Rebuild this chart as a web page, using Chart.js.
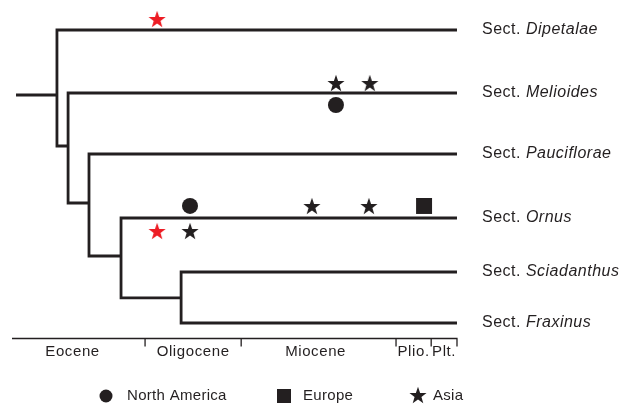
<!DOCTYPE html>
<html lang="en">
<head>
<meta charset="UTF-8">
<title>Fraxinus sections</title>
<script src="https://cdn.jsdelivr.net/npm/chart.js@4.4.0/dist/chart.umd.min.js"></script>
<style>
  html, body { margin: 0; padding: 0; background: #fff; }
  #wrap { width: 632px; height: 410px; }
</style>
</head>
<body>
<div id="wrap"><canvas id="tree" width="632" height="410"></canvas></div>
<script>
// sections (tips), rows from top to bottom
const sections = ['Dipetalae', 'Melioides', 'Pauciflorae', 'Ornus', 'Sciadanthus', 'Fraxinus'];
const sectionRow = [0, 1.075, 2.116, 3.208, 4.13, 5];
const tipTime = 100;

// internal nodes: time (relative, 0 = axis start) and row
const nodeTime = [10.1, 12.6, 17.3, 24.5, 38.0];
const nodeRow = [1.109, 1.98, 2.952, 3.857, 4.573];
const nodeChildren = [['t0', 'n1'], ['t1', 'n2'], ['t2', 'n3'], ['t3', 'n4'], ['t4', 't5']];
const rootStart = 0.9;

// time axis
const epochs = ['Eocene', 'Oligocene', 'Miocene', 'Plio.', 'Plt.'];
const epochBounds = [0, 29.9, 51.5, 86.3, 94.2, 100];

// distribution markers
const naTime = [72.8, 40.0];
const naRow = [1.28, 3.003];
const euTime = [92.6];
const euRow = [3.003];
const asTime = [72.8, 80.4, 67.4, 80.2, 40.0];
const asRow = [0.904, 0.904, 3.003, 3.003, 3.43];
const redTime = [32.6, 32.6];
const redRow = [-0.188, 3.43];

const legendLabels = ['North America', 'Europe', 'Asia'];

const INK = '#231f20';
const RED = '#ed1c24';
const FONT = '"Liberation Sans", Arial, sans-serif';

function makeStar(color, size) {
    const c = document.createElement('canvas');
    c.width = c.height = size;
    const g = c.getContext('2d');
    const R = size / 2, r = R * 0.4;
    const dy = R * 0.095;
    g.fillStyle = color;
    g.beginPath();
    for (let i = 0; i < 10; i++) {
        const a = -Math.PI / 2 + i * Math.PI / 5;
        const rad = i % 2 ? r : R;
        g.lineTo(R + rad * Math.cos(a), R + dy + rad * Math.sin(a));
    }
    g.closePath();
    g.fill();
    return c;
}
const blackStar = makeStar(INK, 18);
const redStar = makeStar(RED, 18);

function pos(id) {
    const i = +id.slice(1);
    return id[0] === 't' ? { x: tipTime, y: sectionRow[i] } : { x: nodeTime[i], y: nodeRow[i] };
}

// branches
const branchSets = [];
const lineStyle = {
    showLine: true, pointRadius: 0, borderColor: INK, borderWidth: 2.8,
    borderJoinStyle: 'miter', borderCapStyle: 'butt', tension: 0
};
branchSets.push(Object.assign({ data: [{ x: rootStart, y: nodeRow[0] }, { x: nodeTime[0], y: nodeRow[0] }] }, lineStyle));
nodeChildren.forEach((kids, i) => {
    kids.forEach(k => {
        const c = pos(k);
        branchSets.push(Object.assign({
            data: [{ x: nodeTime[i], y: nodeRow[i] }, { x: nodeTime[i], y: c.y }, { x: c.x, y: c.y }]
        }, lineStyle));
    });
});

const zip = (xs, ys) => xs.map((x, i) => ({ x: x, y: ys[i] }));
const markerSets = [
    { data: zip(naTime, naRow), pointStyle: 'circle', pointRadius: 8, pointBackgroundColor: INK, pointBorderWidth: 0 },
    { data: zip(euTime, euRow), pointStyle: 'rect', pointRadius: 11.3, pointBackgroundColor: INK, pointBorderWidth: 0 },
    { data: zip(asTime, asRow), pointStyle: blackStar, pointRadius: 9 },
    { data: zip(redTime, redRow), pointStyle: redStar, pointRadius: 9 }
];

const decor = {
    id: 'decor',
    afterDatasetsDraw(chart) {
        const ctx = chart.ctx;
        const xs = chart.scales.x, ys = chart.scales.y;
        ctx.save();
        ctx.fillStyle = INK;
        ctx.strokeStyle = INK;
        ctx.textBaseline = 'middle';

        // section labels
        ctx.letterSpacing = '0.5px';
        const lx = xs.getPixelForValue(tipTime) + 25;
        sections.forEach((s, i) => {
            const y = ys.getPixelForValue(sectionRow[i]);
            ctx.font = '16px ' + FONT;
            ctx.textAlign = 'left';
            ctx.fillText('Sect. ', lx, y);
            const w = ctx.measureText('Sect. ').width;
            ctx.font = 'italic 16px ' + FONT;
            ctx.fillText(s, lx + w, y);
        });

        // time axis
        const ay = ys.getPixelForValue(sectionRow[5]) + 15.5;
        ctx.lineWidth = 1.3;
        ctx.beginPath();
        ctx.moveTo(12, ay);
        ctx.lineTo(xs.getPixelForValue(epochBounds[5]) + 0.6, ay);
        epochBounds.slice(1).forEach(b => {
            const x = xs.getPixelForValue(b);
            ctx.moveTo(x, ay);
            ctx.lineTo(x, ay + 8);
        });
        ctx.stroke();
        ctx.letterSpacing = '0.6px';
        ctx.font = '15px ' + FONT;
        ctx.textAlign = 'center';
        epochs.forEach((e, i) => {
            const x0 = xs.getPixelForValue(epochBounds[i]);
            const x1 = xs.getPixelForValue(epochBounds[i + 1]);
            const shift = i === 0 ? -6 : (i === 2 ? -3 : 0);
            ctx.fillText(e, (x0 + x1) / 2 + shift, ay + 13);
        });

        // legend
        const ly = 396;
        const mx = [106, 284, 418];
        const tx = [127, 303, 433];
        ctx.beginPath();
        ctx.arc(mx[0], ly, 6.5, 0, Math.PI * 2);
        ctx.fill();
        ctx.fillRect(mx[1] - 7, ly - 7, 14, 14);
        ctx.drawImage(blackStar, mx[2] - 9, ly - 10);
        ctx.letterSpacing = '0.3px';
        ctx.textAlign = 'left';
        legendLabels.forEach((t, i) => ctx.fillText(t, tx[i], ly));
        ctx.restore();
    }
};

new Chart(document.getElementById('tree'), {
    type: 'scatter',
    data: { datasets: branchSets.concat(markerSets) },
    options: {
        responsive: false,
        animation: false,
        events: [],
        layout: { padding: 0, autoPadding: false },
        plugins: { legend: { display: false }, tooltip: { enabled: false } },
        scales: {
            x: { type: 'linear', min: -2.7, max: 139.33, display: false },
            y: { type: 'linear', min: -0.512, max: 6.485, reverse: true, display: false }
        }
    },
    plugins: [decor]
});
</script>
</body>
</html>
